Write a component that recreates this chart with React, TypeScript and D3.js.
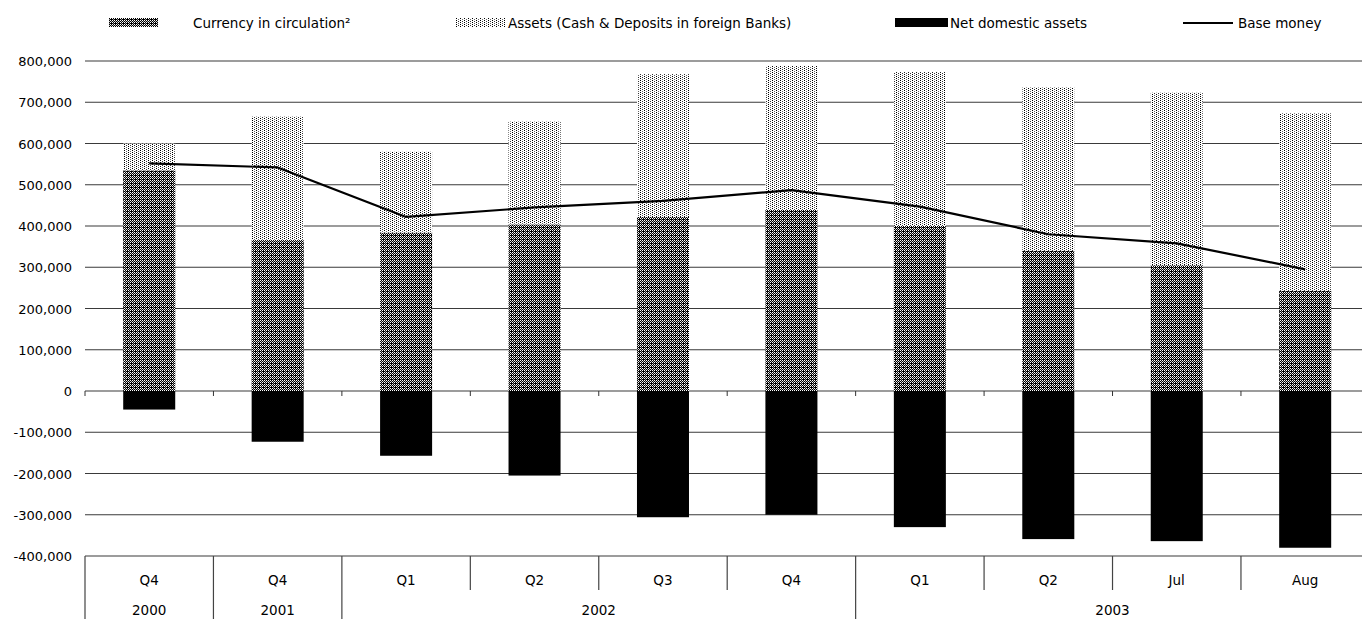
import React from "react";
import * as d3 from "d3";

const categories = ["Q4", "Q4", "Q1", "Q2", "Q3", "Q4", "Q1", "Q2", "Jul", "Aug"];
const years = [
  { label: "2000", start: 0, end: 0 },
  { label: "2001", start: 1, end: 1 },
  { label: "2002", start: 2, end: 5 },
  { label: "2003", start: 6, end: 9 },
];
const currency = [535000, 366000, 384000, 404000, 422000, 439000, 400000, 340000, 305000, 243000];
const foreignAssets = [65000, 299000, 196000, 249000, 346000, 349000, 373000, 396000, 418000, 430000];
const netDomestic = [-45000, -123000, -157000, -205000, -306000, -300000, -330000, -359000, -364000, -380000];
const baseMoney = [552000, 542000, 422000, 445000, 461000, 487000, 447000, 380000, 358000, 295000];
const yTicks = [-400000, -300000, -200000, -100000, 0, 100000, 200000, 300000, 400000, 500000, 600000, 700000, 800000];
const legendItems = ["Currency in circulation²", "Assets (Cash & Deposits in foreign Banks)", "Net domestic assets", "Base money"];

const W = 1362;
const H = 619;
const left = 85;
const right = 1369.4;
const top = 61;
const bottom = 556;
const font = "'DejaVu Sans', Verdana, sans-serif";

const fmt = d3.formatLocale({ decimal: ".", thousands: ",", grouping: [3], currency: ["", ""], minus: "-" }).format(",");

export default function App() {
  const idx = categories.map((_, i) => String(i));
  const x = d3.scaleBand<string>().domain(idx).range([left, right]).padding(0);
  const y = d3.scaleLinear().domain([-400000, 800000]).range([bottom, top]);
  const step = x.bandwidth();
  const barW = step * 0.405;
  const cx = (i: number) => (x(String(i)) as number) + step / 2;

  const line = d3
    .line<number>()
    .x((_, i) => cx(i))
    .y((d) => y(d));

  const boundaries = d3.range(categories.length + 1).map((i) => left + i * step);
  const yearBoundaries = new Set<number>([0, ...years.map((yr) => yr.end + 1)]);

  return (
    <svg
      width={W}
      height={H}
      style={{ position: "absolute", left: 0, top: 0, background: "#fff" }}
      fontFamily={font}
      fontSize={13.5}
    >
      <defs>
        <pattern id="patCur" width={4} height={4} patternUnits="userSpaceOnUse">
          <rect width={4} height={4} fill="#000" shapeRendering="crispEdges" />
          <rect x={0} y={0} width={1} height={1} fill="#fff" shapeRendering="crispEdges" />
          <rect x={2} y={0} width={1} height={1} fill="#fff" shapeRendering="crispEdges" />
          <rect x={1} y={1} width={1} height={1} fill="#bbb" shapeRendering="crispEdges" />
          <rect x={3} y={1} width={1} height={1} fill="#bbb" shapeRendering="crispEdges" />
          <rect x={0} y={2} width={1} height={1} fill="#fff" shapeRendering="crispEdges" />
          <rect x={2} y={2} width={1} height={1} fill="#fff" shapeRendering="crispEdges" />
          <rect x={1} y={3} width={1} height={1} fill="#888" shapeRendering="crispEdges" />
        </pattern>
        <pattern id="patAss" width={4} height={4} patternUnits="userSpaceOnUse">
          <rect width={4} height={4} fill="#fff" shapeRendering="crispEdges" />
          <rect x={0} y={0} width={1} height={1} fill="#000" shapeRendering="crispEdges" />
          <rect x={2} y={1} width={1} height={1} fill="#333" shapeRendering="crispEdges" />
          <rect x={0} y={2} width={1} height={1} fill="#000" shapeRendering="crispEdges" />
          <rect x={2} y={3} width={1} height={1} fill="#666" shapeRendering="crispEdges" />
        </pattern>
      </defs>

      {/* gridlines */}
      {yTicks.map((t) => (
        <line key={t} x1={left} x2={right} y1={y(t)} y2={y(t)} stroke="#3a3a3a" strokeWidth={1.2} />
      ))}

      {/* ticks on zero axis */}
      {boundaries.map((b, i) => (
        <line key={"tk" + i} x1={b} x2={b} y1={y(0)} y2={y(0) + 5} stroke="#333" strokeWidth={1} />
      ))}

      {/* bars */}
      {categories.map((_, i) => {
        const x0 = cx(i) - barW / 2;
        return (
          <g key={"b" + i}>
            <rect x={x0} y={y(currency[i])} width={barW} height={y(0) - y(currency[i])} fill="url(#patCur)" />
            <rect
              x={x0}
              y={y(currency[i] + foreignAssets[i])}
              width={barW}
              height={y(currency[i]) - y(currency[i] + foreignAssets[i])}
              fill="url(#patAss)"
            />
            <rect x={x0} y={y(0)} width={barW} height={y(netDomestic[i]) - y(0)} fill="#000" />
          </g>
        );
      })}

      {/* base money line */}
      <path d={line(baseMoney) || ""} fill="none" stroke="#000" strokeWidth={2.2} strokeLinejoin="round" />

      {/* y labels */}
      {yTicks.map((t) => (
        <text key={"yl" + t} x={72} y={y(t) + 5} textAnchor="end" fill="#000" fontSize={13}>
          {fmt(t)}
        </text>
      ))}

      {/* category table */}
      {boundaries.map((b, i) => (
        <line
          key={"sep" + i}
          x1={b}
          x2={b}
          y1={bottom}
          y2={yearBoundaries.has(i) ? H : 590}
          stroke="#444"
          strokeWidth={1.2}
        />
      ))}
      {categories.map((c, i) => (
        <text key={"c" + i} x={cx(i)} y={585} textAnchor="middle" fill="#000">
          {c}
        </text>
      ))}
      {years.map((yr) => (
        <text
          key={yr.label}
          x={(boundaries[yr.start] + boundaries[yr.end + 1]) / 2}
          y={615}
          textAnchor="middle"
          fill="#000"
        >
          {yr.label}
        </text>
      ))}

      {/* legend */}
      <g>
        <rect x={109} y={18} width={49} height={9} fill="url(#patCur)" />
        <text x={193} y={28} fill="#000">{legendItems[0]}</text>
        <rect x={455} y={18} width={50} height={9} fill="url(#patAss)" />
        <text x={508} y={28} fill="#000">{legendItems[1]}</text>
        <rect x={895} y={18} width={53} height={9} fill="#000" />
        <text x={950} y={28} fill="#000">{legendItems[2]}</text>
        <line x1={1183} x2={1233} y1={23} y2={23} stroke="#000" strokeWidth={2} />
        <text x={1238} y={28} fill="#000">{legendItems[3]}</text>
      </g>
    </svg>
  );
}
